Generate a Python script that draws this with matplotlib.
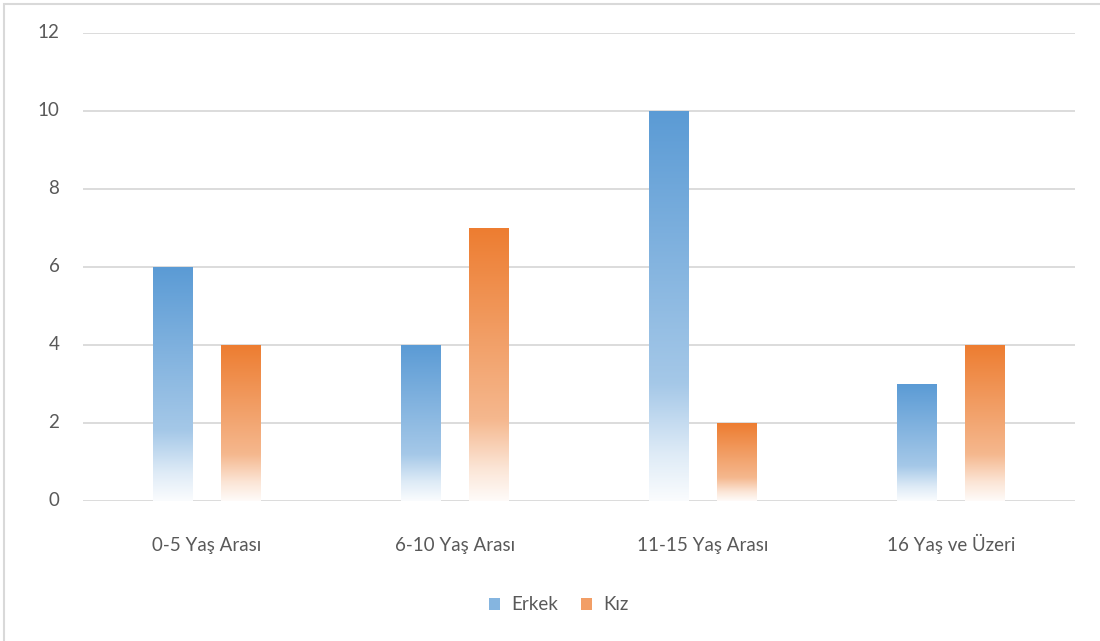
import numpy as np
import matplotlib
matplotlib.use("Agg")
import matplotlib.pyplot as plt
from matplotlib.colors import LinearSegmentedColormap, to_rgb
from matplotlib.patches import Rectangle, Patch

categories = ["0-5 Yaş Arası", "6-10 Yaş Arası", "11-15 Yaş Arası", "16 Yaş ve Üzeri"]
erkek = [6, 4, 10, 3]
kiz = [4, 7, 2, 4]
series_names = ["Erkek", "Kız"]
colors = ["#5B9BD5", "#ED7D31"]

plt.rcParams['font.family'] = ['Lato', 'DejaVu Sans']

fig = plt.figure(figsize=(11, 6.41), dpi=100)
# outer chart border
fig.patches.append(Rectangle((4/1100, -0.01), 1.02, (641-4)/641 + 0.01, transform=fig.transFigure,
                             fill=False, edgecolor="#D9D9D9", linewidth=1.5))

ax = fig.add_axes([83/1100, 1 - 501/641, (1075-83)/1100, (501-33)/641])
ax.set_xlim(-0.5, 3.5)
ax.set_ylim(0, 12)
ax.set_yticks(range(0, 13, 2))
ax.grid(axis='y', color="#D9D9D9", linewidth=1.3)
ax.set_axisbelow(True)
for s in ax.spines.values():
    s.set_visible(False)
ax.tick_params(axis='both', length=0, colors="#595959", labelsize=13.5)
ax.tick_params(axis='y', pad=17)
ax.tick_params(axis='x', pad=36)
ax.set_xticks(range(len(categories)))
ax.set_xticklabels(categories)
for t in ax.get_xticklabels():
    t.set_verticalalignment('baseline')
for t in ax.get_yticklabels():
    t.set_verticalalignment('center')


def make_cmap(c):
    r = np.array(to_rgb(c))
    w = np.array([1, 1, 1])
    mid = r + (w - r) * 0.45
    low = r + (w - r) * 0.80
    return LinearSegmentedColormap.from_list(
        "g", [(0.0, w * 0.97 + r * 0.03), (0.12, low), (0.30, mid), (1.0, r)])


width = 0.161
offset = 0.137
x = np.arange(len(categories))
for vals, col, sign in [(erkek, colors[0], -1), (kiz, colors[1], 1)]:
    cmap = make_cmap(col)
    bars = ax.bar(x + sign * offset, vals, width, color='none', edgecolor='none')
    for b in bars:
        x0, h = b.get_x(), b.get_height()
        grad = np.linspace(0, 1, 256).reshape(-1, 1)
        ax.imshow(grad, cmap=cmap, origin='lower', aspect='auto',
                  extent=(x0, x0 + b.get_width(), 0, h), zorder=2, interpolation='bicubic')
ax.set_xlim(-0.5, 3.5)
ax.set_ylim(0, 12)

handles = [Patch(facecolor=make_cmap(c)(0.6), edgecolor='none') for c in colors]
leg = fig.legend(handles, series_names, loc='center', bbox_to_anchor=(0.508, 1 - 605/641),
                 ncol=2, frameon=False, fontsize=13.5, handlelength=0.6, handleheight=0.6,
                 columnspacing=1.2, handletextpad=0.6)
for t in leg.get_texts():
    t.set_color("#595959")

fig.savefig("out.png", dpi=100)
